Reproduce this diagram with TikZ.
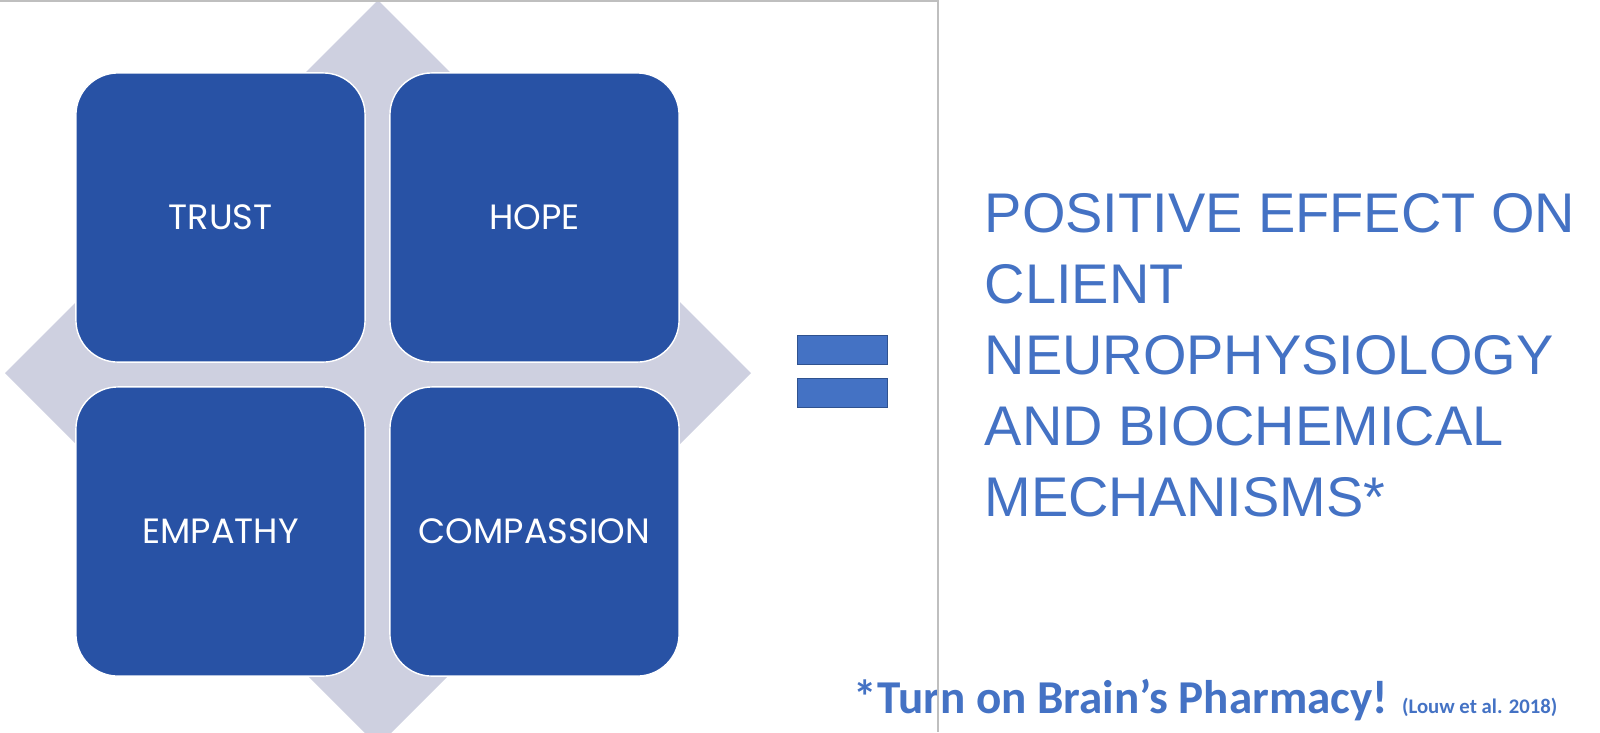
\documentclass[tikz,border=0pt]{standalone}
\usepackage{fontspec}
\setmainfont{Liberation Sans}
\newfontfamily\geofont{Poppins}
\newfontfamily\calfont{Carlito}
\usetikzlibrary{positioning}
\definecolor{box_blue}{RGB}{40,82,165}
\definecolor{diam_gray}{RGB}{206,208,224}
\definecolor{text_blue}{RGB}{68,114,196}
\definecolor{edge_blue}{RGB}{47,82,143}
\definecolor{frame_gray}{RGB}{191,191,191}

\begin{document}
\begin{tikzpicture}[x=0.01cm,y=-0.01cm]
    \tikzstyle{quad}=[draw=white, line width=0.4pt, fill=box_blue, rounded corners=0.42cm, minimum size=2.89cm, inner sep=0pt, text=white, font=\geofont\fontsize{10}{12}\selectfont]
    \tikzstyle{bar}=[draw=edge_blue, line width=0.45pt, fill=text_blue, minimum width=0.90cm, minimum height=0.29cm, inner sep=0pt]
    \tikzstyle{frame}=[draw=frame_gray, line width=0.6pt]

    \useasboundingbox (0,0) rectangle (1600,732);
    \begin{scope}
    \clip (0,0) rectangle (1600,732);
    % backing diamond
    \fill[diam_gray] (378,0) -- (751,373) -- (378,746) -- (5,373) -- cycle;
    \end{scope}

    \node[quad] (trust)      at (220.5,217.5) {TRUST};
    \node[quad] (hope)       at (534.5,217.5) {HOPE};
    \node[quad] (empathy)    at (220.5,531.5) {EMPATHY};
    \node[quad] (compassion) at (534.5,531.5) {COMPASSION};

    \node[bar] (eqtop) at (842.5,350) {};
    \node[bar] (eqbot) at (842.5,393) {};

    \node[anchor=north west, inner sep=0pt, align=left, text=text_blue,
          font=\fontsize{15.9}{20.2}\selectfont] (effect) at (984,193)
      {POSITIVE EFFECT ON\\CLIENT\\NEUROPHYSIOLOGY\\AND BIOCHEMICAL\\MECHANISMS*};

    \node[anchor=base west, inner sep=0pt, text=text_blue,
          font=\calfont\bfseries\fontsize{13.4}{16}\selectfont] (pharmacy) at (853,713)
      {*Turn on Brain’s Pharmacy! {\fontsize{5.9}{7}\selectfont (Louw et al. 2018)}};

    \draw[frame] (0,1) -- (938,1) -- (938,732);
\end{tikzpicture}
\end{document}
